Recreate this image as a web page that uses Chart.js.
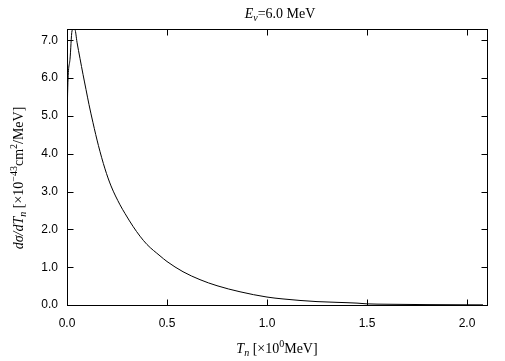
<!DOCTYPE html>
<html>
<head>
<meta charset="utf-8">
<script src="https://cdn.jsdelivr.net/npm/chart.js@4/dist/chart.umd.min.js"></script>
<style>
  html, body { margin: 0; padding: 0; background: #fff; }
  #wrap { width: 505px; height: 361px; position: relative; }
</style>
</head>
<body>
<div id="wrap"><canvas id="canvas"></canvas></div>
<script>
// neutron kinetic energy T_n (MeV)
const tn = [0, 0.003, 0.015, 0.025, 0.032, 0.04, 0.05, 0.065, 0.08, 0.095, 0.11, 0.13, 0.157,
  0.19, 0.22, 0.265, 0.29, 0.33, 0.365, 0.4, 0.465, 0.5, 0.58, 0.665, 0.75, 0.865, 1.0, 1.08,
  1.165, 1.25, 1.35, 1.45, 1.5, 1.6, 1.8, 2.0, 2.08];
// d(sigma)/dT_n  (x 10^-43 cm^2/MeV)
const dsigma = [4.1, 5.6, 6.5, 7.25, 7.3, 7.28, 6.95, 6.52, 6.1, 5.7, 5.3, 4.82, 4.22,
  3.6, 3.15, 2.65, 2.42, 2.08, 1.82, 1.6, 1.3, 1.15, 0.88, 0.67, 0.51, 0.35, 0.21, 0.16,
  0.12, 0.09, 0.07, 0.05, 0.03, 0.02, 0.01, 0.005, 0.004];

const xRange = [0, 2.1];
const yRange = [0, 7.3];

const titleRuns = [{t: 'E', it: true}, {t: 'ν', it: true, sub: true}, {t: '=6.0 MeV'}];
const xTitleRuns = [{t: 'T', it: true}, {t: 'n', it: true, sub: true}, {t: ' [×10'}, {t: '0', sup: true}, {t: 'MeV]'}];
const yTitleRuns = [{t: 'dσ/dT', it: true}, {t: 'n', it: true, sub: true}, {t: ' [×10'}, {t: '−43', sup: true},
  {t: 'cm'}, {t: '2', sup: true}, {t: '/MeV]'}];

const points = tn.map((t, i) => ({x: t, y: dsigma[i]}));

function runFont(r, size) {
  const s = (r.sub || r.sup) ? Math.round(size * 0.72) : size;
  return (r.it ? 'italic ' : '') + s + 'px "Liberation Serif", "Times New Roman", serif';
}

function drawRich(ctx, runs, cx, cy, rot, size) {
  ctx.save();
  ctx.translate(cx, cy);
  ctx.rotate(rot);
  ctx.textBaseline = 'alphabetic';
  ctx.textAlign = 'left';
  let w = 0;
  runs.forEach(r => { ctx.font = runFont(r, size); w += ctx.measureText(r.t).width; });
  let x = -w / 2;
  runs.forEach(r => {
    ctx.font = runFont(r, size);
    let dy = size * 0.35;
    if (r.sub) dy += 3;
    if (r.sup) dy -= 6;
    ctx.fillStyle = '#000';
    ctx.fillText(r.t, x, dy);
    x += ctx.measureText(r.t).width;
  });
  ctx.restore();
}

const framePlugin = {
  id: 'frame',
  afterDraw(chart) {
    const ctx = chart.ctx;
    const a = chart.chartArea;
    const xs = chart.scales.x, ys = chart.scales.y;
    const L = Math.round(a.left) + 0.5, R = Math.round(a.right) + 0.5;
    const T = Math.round(a.top) + 0.5, B = Math.round(a.bottom) + 0.5;
    ctx.save();
    ctx.strokeStyle = '#000';
    ctx.lineWidth = 1;
    ctx.strokeRect(L, T, R - L, B - T);
    const len = 6;
    ctx.beginPath();
    xs.ticks.forEach(tk => {
      const px = Math.round(xs.getPixelForValue(tk.value)) + 0.5;
      ctx.moveTo(px, B); ctx.lineTo(px, B - len);
      ctx.moveTo(px, T); ctx.lineTo(px, T + len);
    });
    ys.ticks.forEach(tk => {
      const py = Math.round(ys.getPixelForValue(tk.value)) + 0.5;
      ctx.moveTo(L, py); ctx.lineTo(L + len, py);
      ctx.moveTo(R, py); ctx.lineTo(R - len, py);
    });
    ctx.stroke();
    ctx.restore();

    drawRich(ctx, titleRuns, (a.left + a.right) / 2 + 3, 13, 0, 14);
    drawRich(ctx, xTitleRuns, (a.left + a.right) / 2, 348, 0, 14);
    drawRich(ctx, yTitleRuns, 18, 178, -Math.PI / 2, 14);
  }
};

const tickFont = {family: '"Liberation Sans", Arial, Helvetica, sans-serif', size: 12};

new Chart(document.getElementById('canvas'), {
  type: 'scatter',
  data: {
    datasets: [{
      data: points,
      showLine: true,
      borderColor: '#000',
      borderWidth: 1,
      pointRadius: 0,
      cubicInterpolationMode: 'monotone',
      fill: false,
    }]
  },
  options: {
    responsive: true,
    maintainAspectRatio: false,
    animation: false,
    layout: {padding: {top: 29, right: 18, left: 0, bottom: 0}},
    plugins: {legend: {display: false}, tooltip: {enabled: false}, title: {display: false}},
    scales: {
      x: {
        type: 'linear',
        min: xRange[0],
        max: xRange[1],
        grid: {display: false, drawTicks: false},
        border: {display: false},
        ticks: {
          stepSize: 0.5,
          includeBounds: false,
          maxRotation: 0,
          padding: 11,
          color: '#000',
          font: tickFont,
          callback: v => v.toFixed(1)
        },
        afterFit: s => { s.height = 56; }
      },
      y: {
        type: 'linear',
        min: yRange[0],
        max: yRange[1],
        grid: {display: false, drawTicks: false},
        border: {display: false},
        ticks: {
          stepSize: 1,
          includeBounds: false,
          padding: 9,
          color: '#000',
          font: tickFont,
          callback: v => v.toFixed(1)
        },
        afterFit: s => { s.width = 67; }
      }
    }
  },
  plugins: [framePlugin]
});
</script>
</body>
</html>
